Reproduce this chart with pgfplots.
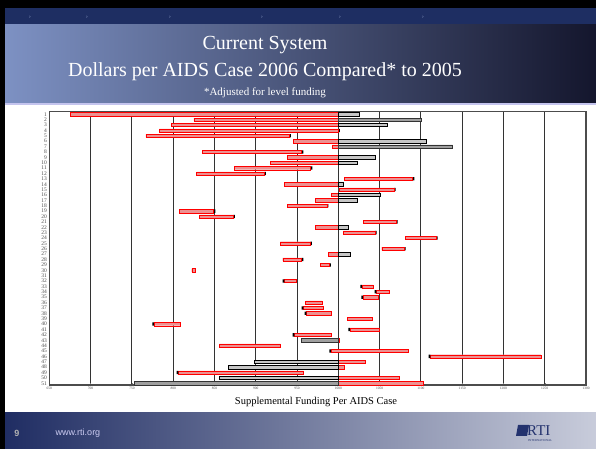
\documentclass[border=0pt]{standalone}
\usepackage{pgfplots}
\pgfplotsset{compat=1.18}
\usepackage{pgfplotstable}
\usepackage{fontspec}
\setmainfont{Liberation Serif}
\setsansfont{Liberation Sans}

\definecolor{navband}{RGB}{30,46,98}
\definecolor{hdrL}{RGB}{125,145,195}
\definecolor{hdrM}{RGB}{70,90,150}
\definecolor{hdrR}{RGB}{20,22,45}
\definecolor{barred}{RGB}{236,145,145}
\definecolor{rtiblue}{RGB}{35,50,110}

% red segments: start, left cap, red length, right cap
\pgfplotstableread{
row s cL r cR
1 675.1 0 324.9 0
2 825.2 0 174.8 0
3 798.2 0 201.8 0
4 783.2 0 216.8 2
5 767.1 0 173.6 2
6 945.5 0 54.5 0
7 992.4 0 7.6 0
8 835.8 0 119.9 2
9 938.7 0 61.3 0
10 917.3 0 82.7 0
11 874.0 0 92.6 2
12 828.5 0 81.9 2
13 1007.3 0 82.8 2
14 934.6 0 65.4 0
15 1000.8 0 66.7 2
16 991.2 0 8.8 0
17 972.6 0 27.4 0
18 938.2 0 47.8 2
19 807.4 0 41.7 2
20 831.7 0 41.1 2
21 1030.3 0 39.6 2
22 972.6 0 27.4 0
23 1006.0 0 38.4 2
24 1080.8 0 37.5 2
25 929.8 0 36.3 2
26 1052.6 0 27.0 2
27 988.4 0 11.6 0
28 932.7 0 23.0 2
29 978.7 0 10.4 2
30 822.5 0 4.0 0
31 0 0 0 0
32 932.7 2 14.5 0
33 1026.6 2 13.4 0
34 1044.1 2 15.7 0
35 1027.8 2 18.7 0
36 960.5 0 19.8 0
37 955.7 2 24.2 0
38 959.3 2 30.3 0
39 1011.4 0 29.8 0
40 774.7 2 31.5 0
41 1012.1 2 35.6 0
42 944.8 2 44.8 0
43 1000 0 1.2 0
44 855.9 0 73.9 0
45 989.1 2 93.7 0
46 1109.5 2 133.9 0
47 1000 0 32.3 0
48 1000 0 7.3 0
49 804.3 2 151.4 0
50 1000 0 73.9 0
51 1000 0 102.9 0
}\redbars

% grey segments: start, length
\pgfplotstableread{
row s g
1 1000 25.4
3 1000 59.4
6 1000 107.1
9 1000 44.8
10 1000 23.0
14 1000 6.5
16 1000 50.9
17 1000 23.0
22 1000 12.1
27 1000 14.2
47 898.8 101.2
48 866.8 133.2
50 855.9 144.1
}\greybars

% darker grey segments
\pgfplotstableread{
row s g
2 1000 101.0
7 1000 138.5
43 955.7 44.3
51 752.9 247.1
}\darkbars

\pgfplotsset{
  common/.style={
    at={(49.3pt,64pt)}, anchor=south west, scale only axis,
    width=536.7pt, height=273.3pt,
    xmin=650, xmax=1300, ymin=0.52, ymax=51.32, y dir=reverse,
    xbar stacked, bar width=3.3pt,
  },
}

\begin{document}
\begin{tikzpicture}[x=1pt,y=1pt]
\useasboundingbox (0,0) rectangle (596,449);
% slide frame
\fill[black] (0,0) rectangle (596,449);
\fill[navband] (5,424) rectangle (596,441);
\shade[left color=hdrL, middle color=hdrM, right color=hdrR] (5,346) rectangle (596,424);
\fill[white] (5,36) rectangle (596,344);
\fill[gray!45!blue!30] (5,344) rectangle (596,346);
\shade[left color=rtiblue!90!black, right color=rtiblue!25] (5,0) rectangle (596,36);
\foreach \xx in {30,87,170,262,340,423}
  \node[text=hdrL!80!white, font=\sffamily\fontsize{5}{5}\selectfont] at (\xx,432) {›};

% titles
\node[text=white, font=\fontsize{20}{22}\selectfont] at (265,404) {Current System};
\node[text=white, font=\fontsize{20}{22}\selectfont] at (265,377) {Dollars per AIDS Case 2006 Compared* to 2005};
\node[text=white, font=\fontsize{11}{12}\selectfont] at (265,356) {*Adjusted for level funding};

% footer
\node[text=gray!60, font=\sffamily\bfseries\fontsize{9}{10}\selectfont] at (17,16) {9};
\node[text=gray!40!blue!25, font=\sffamily\fontsize{9}{10}\selectfont] at (78,16) {www.rti.org};
\fill[rtiblue] (516,13) -- (527,13) -- (529,24) -- (518,24) -- cycle;
\node[text=rtiblue, font=\fontsize{15}{15}\selectfont, anchor=west, inner sep=0] at (527,18.5) {RTI};
\node[text=rtiblue, font=\fontsize{3}{3}\selectfont, anchor=west, inner sep=0] at (528,8.5) {INTERNATIONAL};

\begin{axis}[common,
  xtick={650,700,...,1300}, ytick={1,...,51},
  xmajorgrids, grid style={gray!40!black, line width=0.9pt},
  axis line style={gray!60!black, line width=1.2pt},
  xtick pos=bottom, major tick length=2pt,
  ytick style={draw=none},
  xticklabel style={font=\fontsize{3.5}{4}\selectfont, text=gray!60!black, yshift=1pt},
  yticklabel style={font=\fontsize{5.5}{5.5}\selectfont, text=gray!60!black, xshift=1pt},
  /pgf/number format/1000 sep={},
  /pgf/number format/assume math mode=true,
]
\addplot[draw=none, fill=none] table[x=s, y=row] {\redbars};
\addplot[draw=none, fill=black] table[x=cL, y=row] {\redbars};
\addplot[draw=red, line width=0.45pt, fill=barred] table[x=r, y=row] {\redbars};
\addplot[draw=none, fill=black] table[x=cR, y=row] {\redbars};
\end{axis}

\begin{axis}[common, hide axis]
\addplot[draw=none, fill=none] table[x=s, y=row] {\greybars};
\addplot[draw=black, line width=0.5pt, fill=gray!45] table[x=g, y=row] {\greybars};
\end{axis}

\begin{axis}[common, hide axis]
\addplot[draw=none, fill=none] table[x=s, y=row] {\darkbars};
\addplot[draw=black!80, line width=0.5pt, fill=gray!75] table[x=g, y=row] {\darkbars};
\end{axis}

\node[font=\fontsize{10.5}{12}\selectfont] at (316,47) {Supplemental Funding Per AIDS Case};
\end{tikzpicture}
\end{document}
